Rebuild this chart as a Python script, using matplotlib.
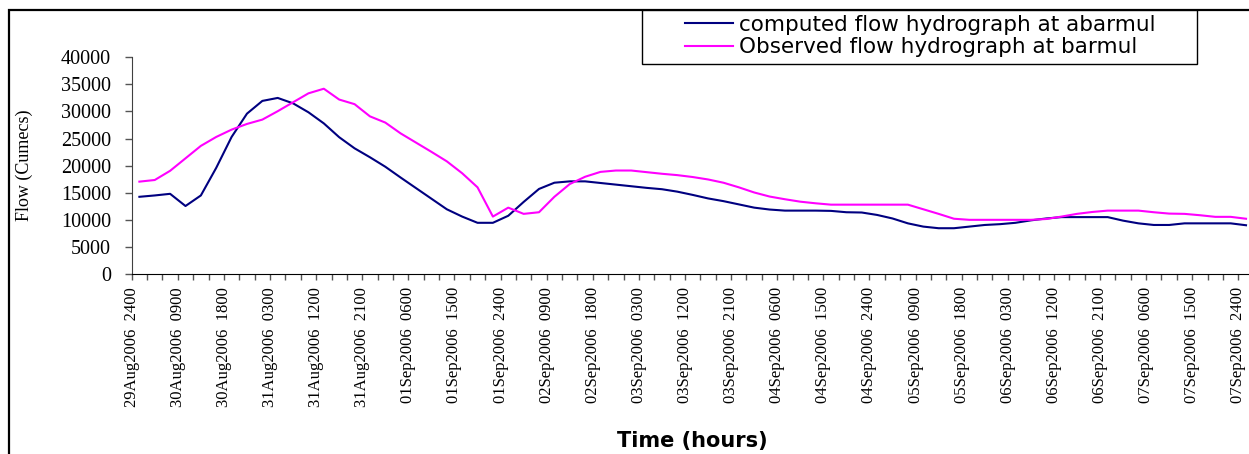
import numpy as np
import matplotlib
matplotlib.use('Agg')
import matplotlib.pyplot as plt
from matplotlib.patches import Rectangle

# flow values every 3 hours, 29Aug2006 2400 to 07Sep2006 2400
computed = [14250, 14500, 14800, 12550, 14500, 19600, 25300, 29600, 31950, 32500,
            31500, 29850, 27800, 25250, 23200, 21550, 19800, 17800, 15850, 13900,
            11950, 10600, 9450, 9450, 10750, 13300, 15700, 16850, 17100, 17100,
            16800, 16500, 16200, 15900, 15650, 15200, 14600, 13950, 13450, 12850,
            12250, 11900, 11700, 11700, 11700, 11650, 11400, 11350, 10900, 10250,
            9350, 8750, 8450, 8450, 8750, 9050, 9200, 9450, 9900, 10250,
            10500, 10500, 10500, 10500, 9850, 9350, 9050, 9050, 9350, 9350,
            9350, 9350, 9000]
observed = [17050, 17350, 19050, 21350, 23650, 25300, 26650, 27700, 28500, 30050,
            31700, 33350, 34200, 32200, 31350, 29100, 27950, 25950, 24250, 22550,
            20800, 18600, 16000, 10600, 12250, 11100, 11400, 14250, 16600, 17950,
            18850, 19100, 19100, 18800, 18500, 18250, 17900, 17450, 16850, 16000,
            15050, 14300, 13800, 13350, 13050, 12800, 12800, 12800, 12800, 12800,
            12800, 11950, 11100, 10200, 10000, 10000, 10000, 10000, 10000, 10150,
            10600, 11100, 11450, 11700, 11700, 11700, 11400, 11150, 11100, 10850,
            10550, 10550, 10200]

label_days = ['29Aug2006', '30Aug2006', '30Aug2006', '31Aug2006', '31Aug2006', '31Aug2006',
              '01Sep2006', '01Sep2006', '01Sep2006', '02Sep2006', '02Sep2006', '03Sep2006',
              '03Sep2006', '03Sep2006', '04Sep2006', '04Sep2006', '04Sep2006', '05Sep2006',
              '05Sep2006', '06Sep2006', '06Sep2006', '06Sep2006', '07Sep2006', '07Sep2006',
              '07Sep2006']
label_hours = ['2400', '0900', '1800', '0300', '1200', '2100', '0600', '1500', '2400',
               '0900', '1800', '0300', '1200', '2100', '0600', '1500', '2400', '0900',
               '1800', '0300', '1200', '2100', '0600', '1500', '2400']
yticks = [0, 5000, 10000, 15000, 20000, 25000, 30000, 35000, 40000]

W, H = 1249, 454
fig = plt.figure(figsize=(W / 100, H / 100), dpi=100)
ax = fig.add_axes([131.7 / W, 1 - 274 / H, 1122 / W, 216.7 / H])

x = np.arange(len(computed)) + 0.5
ax.plot(x, computed, color='#000080', lw=1.5, label='computed flow hydrograph at abarmul')
ax.plot(x, observed, color='#FF00FF', lw=1.5, label='Observed flow hydrograph at barmul')

ax.set_xlim(0, len(computed))
ax.set_ylim(0, 40000)

nt = len(computed) + 1
ax.set_xticks(np.arange(nt))
labels = [''] * nt
for k, (d, h) in enumerate(zip(label_days, label_hours)):
    labels[3 * k] = d + '  ' + h
ax.set_xticklabels(labels, rotation=90, fontfamily='Liberation Serif', fontsize=12)
ax.set_yticks(yticks)
ax.set_yticklabels([str(v) for v in yticks], fontfamily='Liberation Serif', fontsize=14.5)

ax.spines['top'].set_visible(False)
ax.spines['right'].set_visible(False)
ax.spines['left'].set_color('#404040')
ax.tick_params(axis='x', direction='out', length=4.5, width=1, pad=5, color='#555555')
ax.tick_params(axis='y', direction='out', length=5, width=1, pad=10, color='#555555')

ax.set_ylabel('Flow (Cumecs)', fontfamily='Liberation Serif', fontsize=13, va='center')
ax.yaxis.set_label_coords(-0.096, 0.5)
ax.set_xlabel('Time (hours)', fontfamily='DejaVu Sans', fontsize=15, fontweight='bold', va='center')
ax.xaxis.set_label_coords(0.5, (274 - 441) / 216.7)

# chart border and legend box
fig.add_artist(Rectangle((9 / W, -0.1), 1.2, 1.1 - 10 / H, transform=fig.transFigure,
                         fill=False, edgecolor='black', lw=1.6, clip_on=False))
fig.add_artist(Rectangle((642.3 / W, 1 - 64 / H), (1196.7 - 642.3) / W, 54 / H,
                         transform=fig.transFigure, facecolor='white', edgecolor='black', lw=1))
fig.legend(loc='center left', bbox_to_anchor=(685 / W, 1 - 36 / H), frameon=False,
           handlelength=48 / 21.5, handletextpad=6 / 21.5, borderpad=0, borderaxespad=0,
           labelspacing=0.12, prop={'family': 'DejaVu Sans', 'size': 15.5})

fig.savefig('out.png', dpi=100)
